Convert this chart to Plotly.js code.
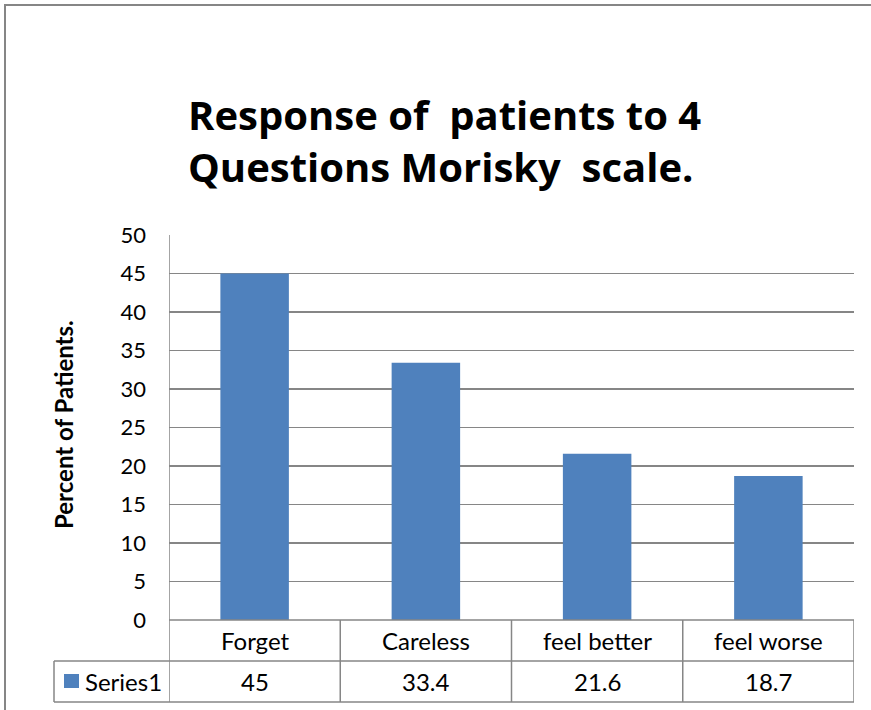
<!DOCTYPE html>
<html><head><meta charset="utf-8">
<script src="https://cdn.plot.ly/plotly-3.0.1.min.js"></script>
<style>html,body{margin:0;padding:0;background:#fff}</style>
</head><body><div id="chart" style="width:871px;height:710px"></div>
<script>
const categories = ['Forget', 'Careless', 'feel better', 'feel worse'];
const values = [45, 33.4, 21.6, 18.7];
const seriesName = 'Series1';
const yTicks = [0, 5, 10, 15, 20, 25, 30, 35, 40, 45, 50];
const titleLines = ['Response of&nbsp; patients to 4', 'Questions Morisky&nbsp; scale.'];
const yTitle = 'Percent of Patients.';

const FONT = 'Lato, "Open Sans", sans-serif';
const TFONT = '"Open Sans", Lato, sans-serif';
const BAR = '#4F81BD';
const GRID = '#868686';
const W = 871, H = 710;
const M = {l: 169, r: 17, t: 235, b: 90};
const PW = W - M.l - M.r, PH = H - M.t - M.b;
const xp = px => (px - M.l) / PW;
const yp = py => (H - M.b - py) / PH;

const shapes = [];
const annotations = [];

// outer chart border
shapes.push({type: 'rect', xref: 'paper', yref: 'paper', x0: xp(5), x1: xp(890), y0: yp(5), y1: yp(730),
  line: {color: GRID, width: 2}, fillcolor: 'rgba(0,0,0,0)', layer: 'below'});

// data table lines
const rowMid = yp(661), rowBot = yp(702);
shapes.push({type: 'line', xref: 'x', yref: 'paper', x0: -0.5, x1: categories.length - 0.5, y0: 0, y1: 0, line: {color: GRID, width: 1.5}});
shapes.push({type: 'line', xref: 'paper', yref: 'paper', x0: xp(54), x1: 1, y0: rowMid, y1: rowMid, line: {color: GRID, width: 1.5}});
shapes.push({type: 'line', xref: 'paper', yref: 'paper', x0: xp(54), x1: 1, y0: rowBot, y1: rowBot, line: {color: GRID, width: 1.5}});
shapes.push({type: 'line', xref: 'paper', yref: 'paper', x0: xp(54), x1: xp(54), y0: rowMid, y1: rowBot, line: {color: GRID, width: 1.5}});
for (let i = 0; i <= categories.length; i++) {
  shapes.push({type: 'line', xref: 'x', yref: 'paper', x0: i - 0.5, x1: i - 0.5, y0: i === 0 ? 1 : 0, y1: rowBot, line: {color: GRID, width: 1.5}});
}
// legend key
shapes.push({type: 'rect', xref: 'paper', yref: 'paper', x0: xp(64), x1: xp(79), y0: yp(674), y1: yp(688), line: {width: 0}, fillcolor: BAR});

categories.forEach((c, i) => {
  annotations.push({xref: 'x', yref: 'paper', x: i, y: yp(640), text: c, showarrow: false,
    xanchor: 'center', yanchor: 'middle', font: {family: FONT, size: 24, color: '#000'}});
  annotations.push({xref: 'x', yref: 'paper', x: i, y: yp(681), text: String(values[i]), showarrow: false,
    xanchor: 'center', yanchor: 'middle', font: {family: FONT, size: 24, color: '#000'}});
});
annotations.push({xref: 'paper', yref: 'paper', x: xp(83), y: yp(681), text: seriesName, showarrow: false,
  xanchor: 'left', yanchor: 'middle', font: {family: FONT, size: 24, color: '#000'}});

// title
titleLines.forEach((t, i) => {
  annotations.push({xref: 'paper', yref: 'paper', x: xp(186), y: yp(i === 0 ? 114 : 167), text: '<b>' + t + '</b>',
    showarrow: false, xanchor: 'left', yanchor: 'middle', font: {family: TFONT, size: 40, color: '#000'}});
});
// y axis title
annotations.push({xref: 'paper', yref: 'paper', x: xp(63), y: yp(425), text: '<b>' + yTitle + '</b>', textangle: -90,
  showarrow: false, xanchor: 'center', yanchor: 'middle', font: {family: FONT, size: 24, color: '#000'}});

const data = [{
  type: 'bar', x: categories, y: values, name: seriesName,
  marker: {color: BAR}, hoverinfo: 'skip'
}];

const layout = {
  width: W, height: H, margin: M,
  paper_bgcolor: '#fff', plot_bgcolor: '#fff',
  showlegend: false, bargap: 0.6,
  xaxis: {type: 'category', range: [-0.5, categories.length - 0.5], showticklabels: false,
    showgrid: false, zeroline: false, showline: false, ticks: ''},
  yaxis: {range: [0, 50], tickvals: yTicks, ticktext: yTicks.map(String), showgrid: true,
    gridcolor: GRID, gridwidth: 1.5, zeroline: false, showline: false, ticks: '', ticklabelstandoff: 22,
    tickfont: {family: FONT, size: 22, color: '#000'}},
  shapes: shapes, annotations: annotations
};

Plotly.newPlot('chart', data, layout, {displayModeBar: false, staticPlot: true});
</script></body></html>
